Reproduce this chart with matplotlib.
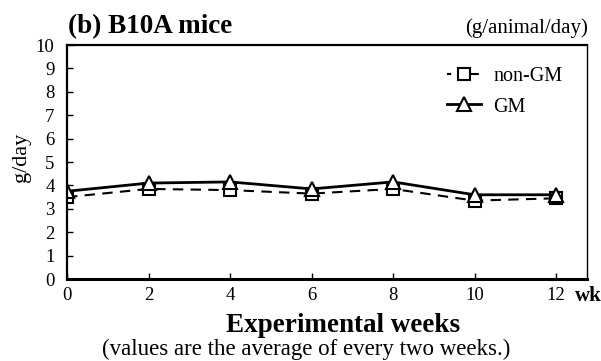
import numpy as np
import matplotlib
matplotlib.use('Agg')
import matplotlib.pyplot as plt

plt.rcParams['font.family'] = ['Liberation Serif', 'DejaVu Serif']

weeks = [0, 2, 4, 6, 8, 10, 12]
nonGM = [3.5, 3.85, 3.8, 3.65, 3.85, 3.35, 3.45]
GM = [3.75, 4.1, 4.15, 3.85, 4.15, 3.6, 3.6]
yticks = list(range(0, 11))

fig = plt.figure(figsize=(6.01, 3.61), dpi=100)
ax = fig.add_axes([0.1115, 0.2271, 0.8652, 0.6482])

ax.plot(weeks, nonGM, color='black', lw=1.5, linestyle=(0, (5, 3.5)),
        marker='s', ms=8.5, mfc='white', mec='black', mew=1.5, label='non-GM')
ax.plot(weeks, GM, color='black', lw=2, linestyle='-',
        marker='^', ms=10, mfc='white', mec='black', mew=1.5, label='GM')

ax.set_xlim(0, 12.76)
ax.set_ylim(0, 10)
ax.set_xticks(weeks)
ax.set_yticks(yticks)
ax.tick_params(direction='in', length=4, width=1, labelsize=13.5)
ax.tick_params(axis='x', pad=6)
ax.tick_params(axis='y', pad=9)
for s in ['left', 'top', 'bottom']:
    ax.spines[s].set_linewidth(1.6)
ax.spines['right'].set_linewidth(1.0)
ax.spines['bottom'].set_linewidth(2.2)

leg = ax.legend(loc='upper left', bbox_to_anchor=(0.731, 0.905), frameon=False,
                fontsize=14.5, handlelength=1.7, handletextpad=0.6,
                labelspacing=0.55, borderpad=0, borderaxespad=0)
# short dashes either side of the square in the legend key
leg.get_lines()[0].set_dashes([2, 5.3, 8, 5.3, 2, 10])

fig.text(22/601, 1 - 157/361, 'g/day', fontsize=16, rotation=90,
         ha='center', va='center')
fig.text(68/601, 1 - 33/361, '(b) B10A mice', fontsize=19.5, fontweight='bold',
         ha='left', va='baseline')
fig.text(588/601, 1 - 33/361, '(g/animal/day)', fontsize=15,
         ha='right', va='baseline')
fig.text(575/601, 1 - 296/361, 'wk', fontsize=15, fontweight='bold',
         ha='left', va='center')
fig.text(343/601, 1 - 326/361, 'Experimental weeks', fontsize=19.5,
         fontweight='bold', ha='center', va='center')
fig.text(306/601, 1 - 349/361, '(values are the average of every two weeks.)',
         fontsize=16.5, ha='center', va='center')

plt.savefig('out.png', dpi=100)
